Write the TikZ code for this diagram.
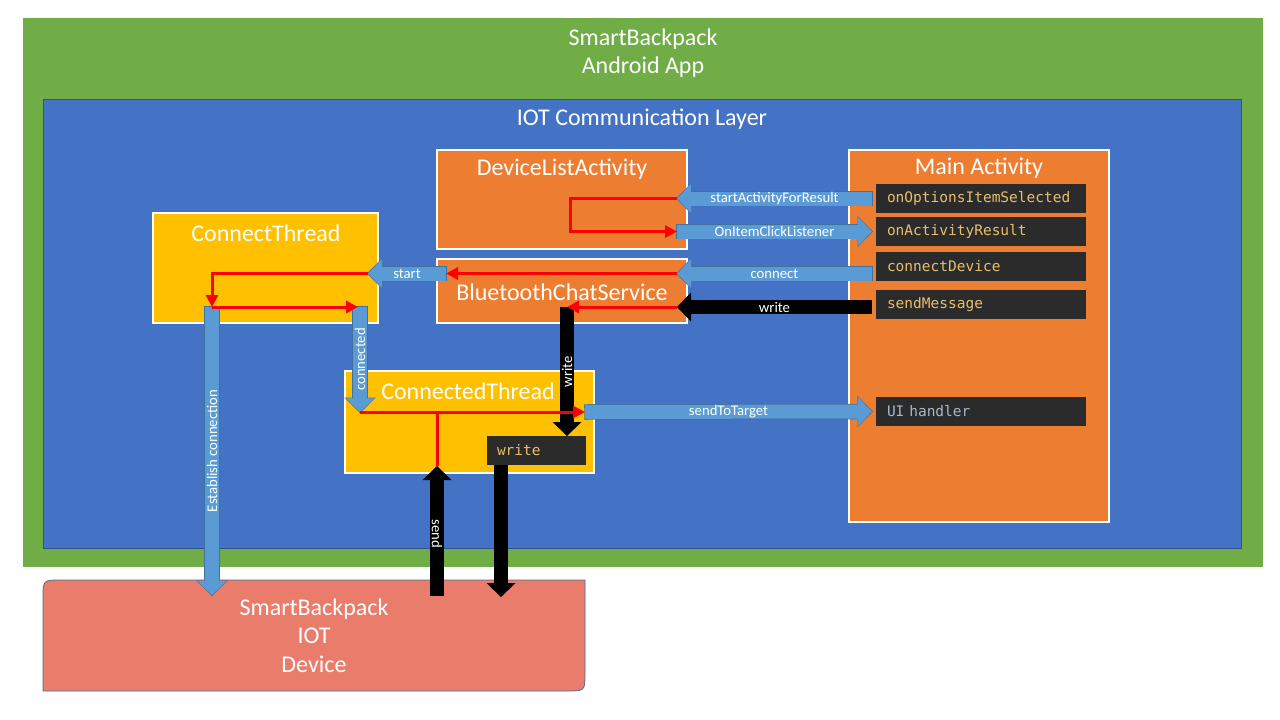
\documentclass[tikz,border=0pt]{standalone}
\usepackage{fontspec}
\setmainfont{Carlito}
\newfontfamily\codefont{DejaVu Sans Mono}
\usetikzlibrary{arrows.meta,calc,backgrounds}
\definecolor{appgreen}{HTML}{70AD47}
\definecolor{layerblue}{HTML}{4472C4}
\definecolor{layeredge}{HTML}{2F528F}
\definecolor{actorange}{HTML}{ED7D31}
\definecolor{thryellow}{HTML}{FFC000}
\definecolor{codebg}{HTML}{2B2B2B}
\definecolor{codefg}{HTML}{E8BF6A}
\definecolor{codegray}{HTML}{A9B7C6}
\definecolor{arrblue}{HTML}{5B9BD5}
\definecolor{arredge}{HTML}{41719C}
\definecolor{devsalmon}{HTML}{E97C6B}
\definecolor{devedge}{HTML}{41719C}
\definecolor{flowred}{HTML}{FF0000}
\tikzset{
  area/.style={inner sep=0pt, outer sep=0pt, anchor=north west},
  classbox/.style={area, draw=white, line width=2pt},
  titletext/.style={text=white, font=\fontsize{24}{28.5}\selectfont, inner sep=0pt, align=center},
  codebox/.style={area, fill=codebg, text=codefg, font=\codefont\fontsize{14.5}{16}\selectfont,
    align=left, inner xsep=11pt, inner ysep=0pt, text width=188pt, minimum height=29pt},
  blockarrow/.style={draw=arrblue, line width=14pt, -{Triangle[length=14pt,width=29pt,line width=0pt]}},
  blockedge/.style={draw=arredge, line width=15.5pt, -{Triangle[length=15.5pt,width=31.5pt,line width=0pt]}, shorten <=-0.75pt, shorten >=-1pt},
  blackarrow/.style={blockarrow, draw=black},
  blabel/.style={text=white, font=\fontsize{14.7}{16}\selectfont, inner sep=0pt},
  redflow/.style={draw=flowred, line width=3pt, -{Triangle[length=12pt,width=12pt]}},
  redline/.style={draw=flowred, line width=3pt}
}
\begin{document}
\begin{tikzpicture}[x=1pt,y=-1pt]
\useasboundingbox (0,0) rectangle (1280,720);
% containers
\node[area, fill=appgreen, minimum width=1240pt, minimum height=549pt] (app) at (23,18) {};
\node[titletext] (apptitle) at (643,53) {SmartBackpack\\Android App};
\node[area, fill=layerblue, draw=layeredge, line width=0.8pt, minimum width=1198pt, minimum height=449pt] (layer) at (43,99) {};
\node[titletext] (layertitle) at (642,119) {IOT Communication Layer};
% classes
\node[classbox, fill=actorange, minimum width=250pt, minimum height=99pt] (dla) at (437,150) {};
\node[titletext] (dlat) at (562,169) {DeviceListActivity};
\node[classbox, fill=actorange, minimum width=250pt, minimum height=64pt] (bcs) at (437,259) {};
\node[titletext] (bcst) at (562,292) {BluetoothChatService};
\node[classbox, fill=thryellow, minimum width=225pt, minimum height=110pt] (ct) at (153,213) {};
\node[titletext] (ctt) at (266,233) {ConnectThread};
\node[classbox, fill=thryellow, minimum width=249pt, minimum height=102pt] (cdt) at (345,371) {};
\node[titletext] (cdtt) at (468,391) {ConnectedThread};
\node[classbox, fill=actorange, minimum width=260pt, minimum height=372pt] (ma) at (849,150) {};
\node[titletext] (mat) at (979,168) {Main Activity};
% methods
\node[codebox] (m1) at (876,184) {onOptionsItemSelected};
\node[codebox] (m2) at (876,217) {onActivityResult};
\node[codebox] (m3) at (876,252) {connectDevice};
\node[codebox] (m4) at (876,290) {sendMessage};
\node[codebox, text=codegray] (m5) at (876,397) {UI handler};
\node[codebox, text width=79pt, inner xsep=10pt] (wbox) at (487,436) {write};
% device
\node[area, minimum width=542pt, minimum height=111pt] (dev) at (43,580) {};
\node[titletext] (devt) at (dev.center) {SmartBackpack\\IOT\\Device};
\begin{scope}[on background layer]
\filldraw[fill=devsalmon, draw=devedge, line width=0.8pt]
  (dev.south west) -- ($(dev.north west)+(0,18)$) .. controls (dev.north west) .. ($(dev.north west)+(18,0)$)
  -- (dev.north east) -- ($(dev.south east)+(0,-18)$) .. controls (dev.south east) .. ($(dev.south east)+(-18,0)$) -- cycle;
\end{scope}
% connector end points
\coordinate (sa1) at ($(m1.west)+(-4,0)$);
\coordinate (sa2) at ($(m1.west -| dla.east)+(-10,0)$);
\coordinate (oc1) at ($(m2.west -| dla.east)+(-10,0)$);
\coordinate (oc2) at ($(m2.west)+(-4,0)$);
\coordinate (cn1) at ($(m3.west)+(-4,7)$);
\coordinate (cn2) at ($(m3.west -| dla.east)+(-10,7)$);
\coordinate (wr1) at ($(m4.west)+(-4,2.5)$);
\coordinate (wr2) at ($(m4.west -| dla.east)+(-10,2.5)$);
\coordinate (st1) at (cn2 -| 446,0);
\coordinate (st2) at ($(cn2 -| ct.east)+(-10,0)$);
\coordinate (ea1) at (212,307);
\coordinate (ea2) at (212,595);
\coordinate (cd1) at (360,307);
\coordinate (cd2) at (360,412);
\coordinate (bw1) at (567,307);
\coordinate (bw2) at (wbox.north -| bw1);
\coordinate (stt1) at ($(cd2 -| cdt.east)+(-9,0)$);
\coordinate (stt2) at ($(m5.west)+(-4,0)$);
\coordinate (sd1) at (437,596);
\coordinate (sd2) at (437,466);
\coordinate (wd1) at ($(wbox.south west)+(14,0)$);
\coordinate (wd2) at (wd1 |- 0,597);
% block arrow outlines
\draw[blockedge] (sa1) -- (sa2);
\draw[blockedge] (oc1) -- (oc2);
\draw[blockedge] (cn1) -- (cn2);
\draw[blockedge] (st1) -- (st2);
\draw[blockedge] (ea1) -- (ea2);
\draw[blockedge] (cd1) -- (cd2);
\draw[blockedge] (stt1) -- (stt2);
% block arrows
\draw[blockarrow] (sa1) -- (sa2) node[midway, blabel] {startActivityForResult};
\draw[blockarrow] (oc1) -- (oc2) node[midway, blabel] {OnItemClickListener};
\draw[blockarrow] (cn1) -- (cn2) node[midway, blabel] {connect};
\draw[blackarrow] (wr1) -- (wr2) node[midway, blabel] {write};
\draw[blockarrow] (st1) -- (st2) node[midway, blabel] {start};
\draw[blockarrow] (ea1) -- (ea2) node[midway, blabel, rotate=90] {Establish connection};
\draw[blockarrow] (cd1) -- (cd2) node[midway, blabel, rotate=90] {connected};
\draw[blackarrow] (bw1) -- (bw2) node[midway, blabel, rotate=90] {write};
\draw[blockarrow] (stt1) -- (stt2) node[midway, blabel] {sendToTarget};
\draw[blackarrow] (sd1) -- (sd2) node[pos=0.48, blabel, rotate=-90] {send};
\draw[blackarrow] (wd1) -- (wd2);
% red flows
\draw[redflow] (sa2) -- ++(-107,0) |- (oc1);
\draw[redflow] (cn2) -- (st1);
\draw[redflow] (wr2) -- (bw1);
\draw[redflow] (st2) -| (ea1);
\draw[redflow] (ea1) -- ($(cd1)+(-2,0)$);
\draw[redflow] (cd2) -- (stt1);
\draw[redline] (sd2) -- (sd2 |- cd2);
\end{tikzpicture}
\end{document}
